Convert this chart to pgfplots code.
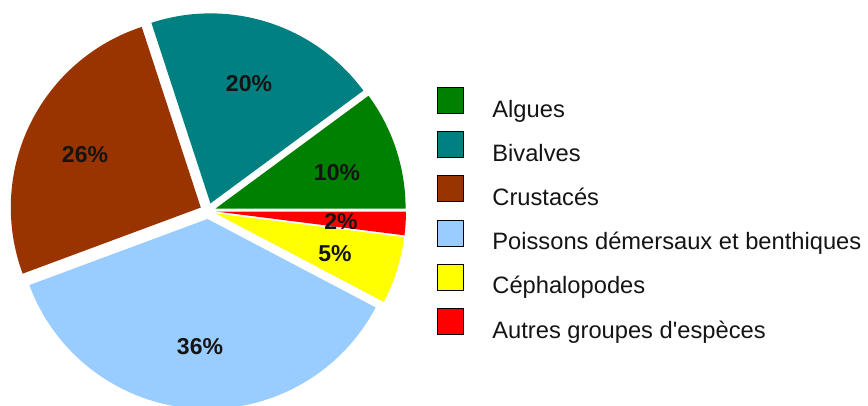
\documentclass[border=0pt]{standalone}
\usepackage{pgfplots}
\pgfplotsset{compat=1.18}
\usepackage{pgfplotstable}
\usetikzlibrary{calc}
\usepackage{fontspec}
\setmainfont{Liberation Sans}
\definecolor{cAlg}{RGB}{0,128,0}
\definecolor{cBiv}{RGB}{0,128,128}
\definecolor{cCru}{RGB}{153,51,0}
\definecolor{cPoi}{RGB}{153,204,255}
\definecolor{cCep}{RGB}{255,255,0}
\definecolor{cAut}{RGB}{255,0,0}
\definecolor{txt}{RGB}{20,20,20}
% share of each group (percent), drawn counter-clockwise from 3 o'clock
\pgfplotstableread{
val col
10.1 cAlg
19.9 cBiv
25.6 cCru
36.6 cPoi
5.7 cCep
2.0 cAut
}\piedata
\begin{document}
\begin{tikzpicture}
\begin{axis}[
  x=1bp, y=1bp,
  xmin=0, xmax=868, ymin=0, ymax=406,
  hide axis, clip=true,
  legend cell align=left,
  legend image code/.code={\fill[#1] (0bp,-2bp) rectangle (26bp,24bp);},
  legend style={
    at={(axis cs:437,319)}, anchor=north west,
    draw=none, fill=none, inner sep=0pt, outer sep=0pt,
    font=\fontsize{23.7bp}{27bp}\selectfont, text=txt,
    row sep=9bp,
    nodes={inner sep=0pt, text height=17bp, text depth=5bp},
    /tikz/every odd column/.append style={column sep=29bp},
  },
]
\addlegendimage{fill=cAlg}\addlegendentry{Algues}
\addlegendimage{fill=cBiv}\addlegendentry{Bivalves}
\addlegendimage{fill=cCru}\addlegendentry{Crustacés}
\addlegendimage{fill=cPoi}\addlegendentry{Poissons démersaux et benthiques}
\addlegendimage{fill=cCep}\addlegendentry{Céphalopodes}
\addlegendimage{fill=cAut}\addlegendentry{Autres groupes d\textquotesingle espèces}
\pgfplotsextra{
  \def\tot{99.9}
  \xdef\startang{0}
  \foreach \i in {0,...,5}{
    \pgfplotstablegetelem{\i}{val}\of\piedata \let\v\pgfplotsretval
    \pgfplotstablegetelem{\i}{col}\of\piedata \let\c\pgfplotsretval
    \pgfmathsetmacro\endang{\startang+\v/\tot*360}
    \pgfmathsetmacro\midang{(\startang+\endang)/2}
    \fill[\c] ($(axis cs:208,195)+(\midang:8bp)$) -- ++(\startang:190bp)
      arc[start angle=\startang, end angle=\endang, radius=190bp] -- cycle;
    \xdef\startang{\endang}
  }
  \begingroup
  \fontsize{23bp}{27bp}\selectfont\bfseries
  \node[text=txt] at (axis cs:249,322) {20\%};
  \node[text=txt] at (axis cs:85,251) {26\%};
  \node[text=txt] at (axis cs:337,233) {10\%};
  \node[text=txt] at (axis cs:341,184) {2\%};
  \node[text=txt] at (axis cs:335,152) {5\%};
  \node[text=txt] at (axis cs:200,59) {36\%};
  \endgroup
}
\end{axis}
\pgfresetboundingbox
\path (0,0) rectangle (868bp,406bp);
\end{tikzpicture}
\end{document}
